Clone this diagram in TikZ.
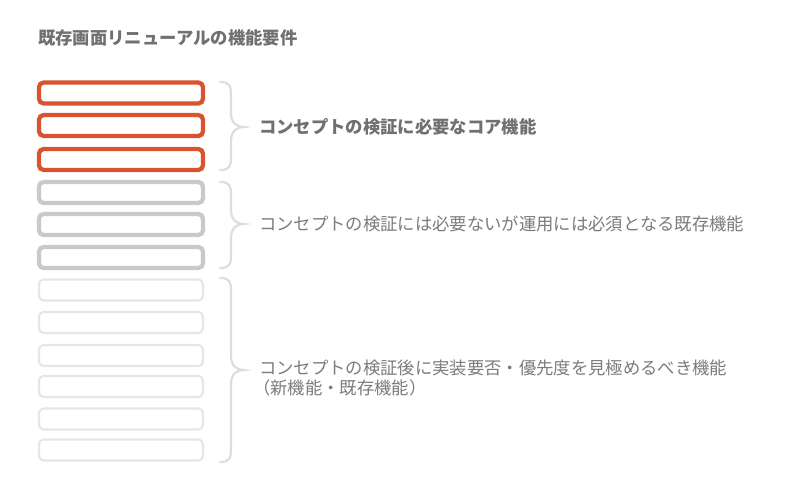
\documentclass[tikz,border=0pt]{standalone}
\usepackage{fontspec}
\usetikzlibrary{calc}
\setmainfont{Noto Sans CJK JP}
\newfontfamily\jpfont{Noto Sans CJK JP}
\definecolor{corered}{HTML}{D9532F}
\definecolor{midgray}{HTML}{C9C9C9}
\definecolor{lightgray}{HTML}{E6E6E6}
\definecolor{bracegray}{HTML}{DDDDDD}
\definecolor{titlegray}{HTML}{707070}
\definecolor{textgray}{HTML}{7C7C7C}
\tikzset{
  featbox/.style={draw, rounded corners=3.5pt, minimum width=164*0.75pt, minimum height=21*0.75pt, inner sep=0pt, fill=white},
  corebox/.style={featbox, draw=corered, line width=3.2pt},
  grbox/.style={featbox, draw=midgray, line width=3.2pt},
  ltbox/.style={featbox, draw=lightgray, line width=1.6pt},
  bracestyle/.style={draw=bracegray, line width=1.6pt, line cap=round},
  lbl/.style={anchor=west, inner sep=0pt, text=textgray, font=\jpfont\fontsize{13pt}{15pt}\selectfont, align=left},
  boldlbl/.style={anchor=west, inner sep=0pt, text=titlegray, font=\jpfont\bfseries\fontsize{13pt}{15pt}\selectfont},
}
\begin{document}
\begin{tikzpicture}[x=0.75pt, y=-0.75pt]
\useasboundingbox[fill=white] (0,0) rectangle (800,495);
\node[boldlbl] (title) at (38,38) {既存画面リニューアルの機能要件};
% core boxes
\node[corebox] (b1) at (121,93) {};
\node[corebox] (b2) at (121,125.5) {};
\node[corebox] (b3) at (121,159.5) {};
% gray boxes
\node[grbox] (b4) at (121,192.5) {};
\node[grbox] (b5) at (121,224.5) {};
\node[grbox] (b6) at (121,257.5) {};
% light boxes
\node[ltbox] (b7) at (121,290) {};
\node[ltbox] (b8) at (121,322.5) {};
\node[ltbox] (b9) at (121,355.5) {};
\node[ltbox] (b10) at (121,386.5) {};
\node[ltbox] (b11) at (121,419) {};
\node[ltbox] (b12) at (121,450) {};
% braces
\coordinate (t1) at (220,82); \coordinate (m1) at (244,127); \coordinate (e1) at (220,170);
\coordinate (t2) at (220,182); \coordinate (m2) at (244,224); \coordinate (e2) at (220,268);
\coordinate (t3) at (220,278); \coordinate (m3) at (244,370); \coordinate (e3) at (220,462);
\foreach \t/\m/\e in {t1/m1/e1, t2/m2/e2, t3/m3/e3}{
  \draw[bracestyle] (\t) .. controls ($(\t)+(10,0)$) and ($(\t)+(11,4)$) .. ($(\t)+(11,14)$)
    -- ($(\m)+(-13,-14)$) .. controls ($(\m)+(-13,-3)$) and ($(\m)+(-6,0)$) .. (\m)
    .. controls ($(\m)+(-6,0)$) and ($(\m)+(-13,3)$) .. ($(\m)+(-13,14)$)
    -- ($(\e)+(11,-14)$) .. controls ($(\e)+(11,-4)$) and ($(\e)+(10,0)$) .. (\e);
}
% labels
\node[boldlbl] (l1) at (259,127) {コンセプトの検証に必要なコア機能};
\node[lbl] (l2) at (259,224) {コンセプトの検証には必要ないが運用には必須となる既存機能};
\node[lbl] (l3) at (259,378) {コンセプトの検証後に実装要否・優先度を見極めるべき機能\\\hspace*{-0.35em}（新機能・既存機能）};
\end{tikzpicture}
\end{document}
